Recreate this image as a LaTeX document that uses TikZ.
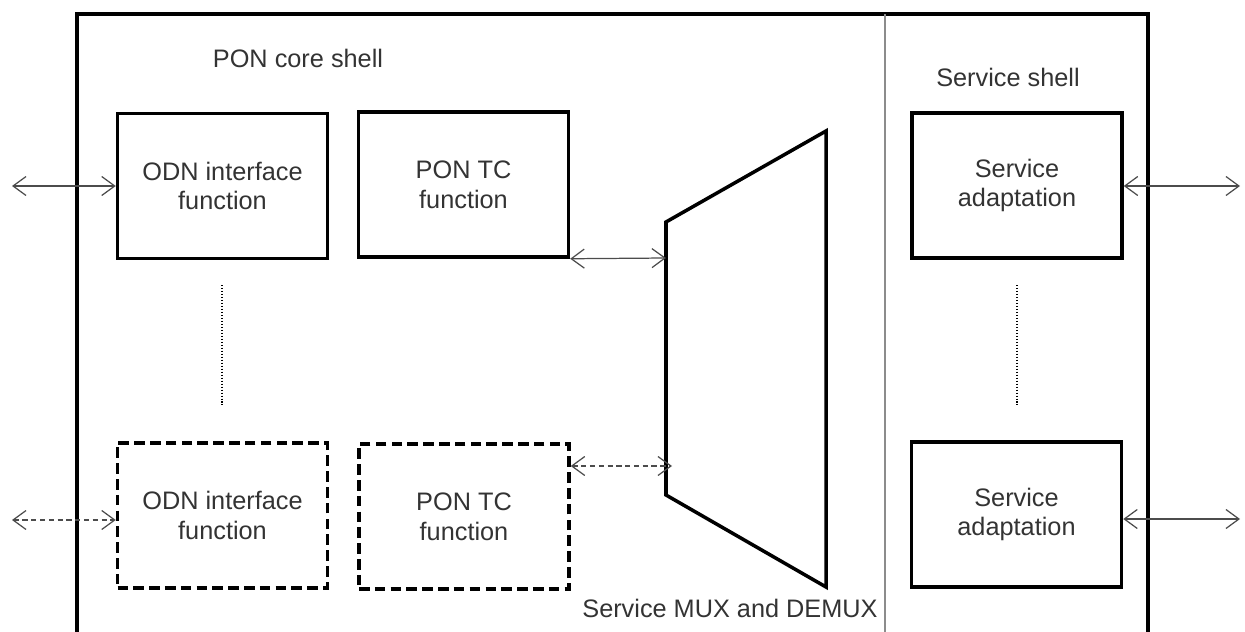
\documentclass[tikz,border=0pt]{standalone}
\usepackage{fontspec}
\setmainfont{Liberation Sans}
\usetikzlibrary{arrows.meta}

\begin{document}
\begin{tikzpicture}[x=0.02cm, y=-0.02cm,
    fn/.style={rectangle, draw, line width=2pt, minimum width=4.2cm,
               minimum height=2.9cm, align=center,
               font=\fontsize{14.4}{17}\selectfont, text=black!80},
    fndash/.style={fn, dash pattern=on 6pt off 3pt},
    link/.style={<->, line width=0.7pt, draw=black!70,
                 >={Straight Barb[length=2.6mm,width=3.8mm]}},
    lbl/.style={font=\fontsize{14.4}{17}\selectfont, text=black!80}
]
\useasboundingbox (0,0) rectangle (1245,632);

% outer shell
\draw[line width=2pt] (77,640) -- (77,14) -- (1148,14) -- (1148,640);
\draw[line width=0.9pt, black!45] (885,14) -- (885,640);
\node[lbl] (core) at (298,58) {PON core shell};
\node[lbl] (svc) at (1008,77) {Service shell};

% functions
\node[fn] (odn1) at (222.5,186) {ODN interface\\function};
\node[fn] (tc1) at (463.5,184.5) {PON TC\\function};
\node[fndash] (odn2) at (222.5,515.5) {ODN interface\\function};
\node[fndash] (tc2) at (464,516.5) {PON TC\\function};
\node[fn] (sa1) at (1017,185.5) {Service\\adaptation};
\node[fn] (sa2) at (1016.5,514.5) {Service\\adaptation};

% mux / demux
\draw[line width=2pt] (666,222) -- (826,131) -- (826,587) -- (666,495) -- cycle;
\node[lbl] (mux) at (730,608) {Service MUX and DEMUX};
\coordinate (mux1) at (666,258);
\coordinate (mux2) at (672,466);

% free ends
\coordinate (in1) at (12,186);
\coordinate (in2) at (12,520);
\coordinate (out1) at (1240,186);
\coordinate (out2) at (1240,519);

\draw[link] (in1) -- (odn1.west |- in1);
\draw[link, densely dashed] (in2) -- (odn2.west |- in2);
\draw[link] (tc1.south east) -- (mux1);
\draw[link, densely dashed] (tc2.east |- mux2) -- (mux2);
\draw[link] (sa1.east |- out1) -- (out1);
\draw[link] (sa2.east |- out2) -- (out2);

% more of the same
\draw[densely dotted, line width=0.7pt] (222,285) -- (222,405);
\draw[densely dotted, line width=0.7pt] (1017,285) -- (1017,405);
\end{tikzpicture}
\end{document}
